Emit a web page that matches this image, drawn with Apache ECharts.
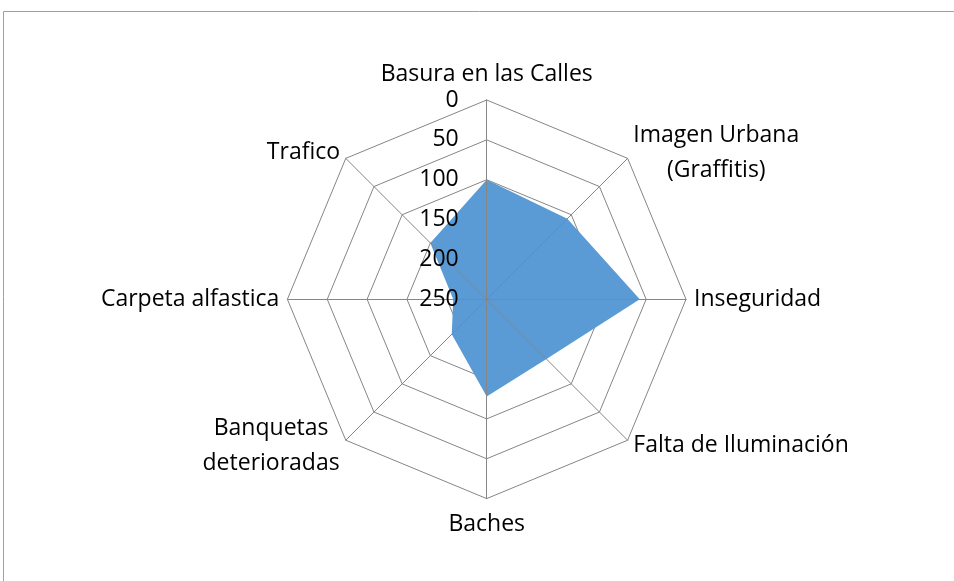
<!DOCTYPE html>
<html>
<head>
<meta charset="utf-8">
<script src="https://cdn.jsdelivr.net/npm/echarts@6/dist/echarts.min.js"></script>
<style>
html,body{margin:0;padding:0;background:#fff;}
#chart{width:954px;height:581px;}
</style>
</head>
<body>
<div id="chart"></div>
<script>
// Categories in the reference's clockwise order, starting at the top
const categories = [
  'Basura en las Calles',
  'Imagen Urbana\n(Graffitis)',
  'Inseguridad',
  'Falta de Iluminación',
  'Baches',
  'Banquetas\ndeterioradas',
  'Carpeta alfastica',
  'Trafico'
];
// Values (axis is reversed: 0 outside, 250 at centre)
const values = [100, 107, 58, 144, 128, 188, 208, 150];
const axisMin = 0;
const axisMax = 250;
const axisStep = 50;

// ECharts places indicators counter-clockwise; reorder to get a clockwise layout
const order = [0, 7, 6, 5, 4, 3, 2, 1];
const FONT = 'Open Sans';
const FS = 23;

// rich styles so that multi-line names have their lines centred on each other
const measureCtx = document.createElement('canvas').getContext('2d');
measureCtx.font = FS + 'px "' + FONT + '"';
const rich = {};
categories.forEach((name, i) => {
  const w = Math.max(...name.split('\n').map(s => measureCtx.measureText(s).width));
  rich['n' + i] = { fontFamily: FONT, fontSize: FS, color: '#000', width: Math.ceil(w), align: 'center', lineHeight: 35 };
});
function nameFmt(name) {
  if (name.indexOf('\n') < 0) return name;
  const i = categories.indexOf(name);
  return name.split('\n').map(s => '{n' + i + '|' + s + '}').join('\n');
}

const indicatorsBase = order.map(i => ({
  name: categories[i],
  min: axisMin,
  max: axisMax
}));
const indicatorsTop = order.map((i, k) => {
  const o = { name: categories[i], min: axisMin, max: axisMax };
  if (k === 0) {
    o.axisLabel = {
      show: true,
      color: '#000',
      fontFamily: FONT,
      fontSize: FS,
      margin: 28,
      formatter: v => String(axisMax - v)
    };
  }
  return o;
});

const chart = echarts.init(document.getElementById('chart'), null, { renderer: 'canvas' });
chart.setOption({
  animation: false,
  backgroundColor: '#fff',
  graphic: [{
    type: 'rect',
    shape: { x: 3.5, y: 11.5, width: 1000, height: 1000 },
    style: { fill: 'none', stroke: '#a0a0a0', lineWidth: 1 },
    silent: true, z: -10
  }],
  radar: [{
    center: [486.7, 299.3],
    radius: 199.3,
    startAngle: 90,
    shape: 'polygon',
    splitNumber: (axisMax - axisMin) / axisStep,
    indicator: indicatorsBase,
    nameGap: 8,
    axisName: {
      color: '#000',
      fontFamily: FONT,
      fontSize: FS,
      lineHeight: 36,
      formatter: nameFmt,
      rich: rich
    },
    splitLine: { lineStyle: { color: '#868686', width: 1 } },
    splitArea: { show: false },
    axisLine: { show: false },
    axisTick: { show: false },
    axisLabel: { show: false },
    z: 0
  }, {
    center: [486.7, 299.3],
    radius: 199.3,
    startAngle: 90,
    shape: 'polygon',
    splitNumber: (axisMax - axisMin) / axisStep,
    indicator: indicatorsTop,
    axisName: { show: false },
    splitLine: { show: false },
    splitArea: { show: false },
    axisLine: { show: true, lineStyle: { color: '#868686', width: 1 } },
    axisTick: { show: false },
    z: 3
  }],
  series: [{
    type: 'radar',
    radarIndex: 0,
    symbol: 'none',
    z: 2,
    lineStyle: { width: 0, opacity: 0 },
    areaStyle: { color: '#5B9BD5', opacity: 1 },
    data: [{ value: order.map(i => axisMax - values[i]) }]
  }]
});
</script>
</body>
</html>
